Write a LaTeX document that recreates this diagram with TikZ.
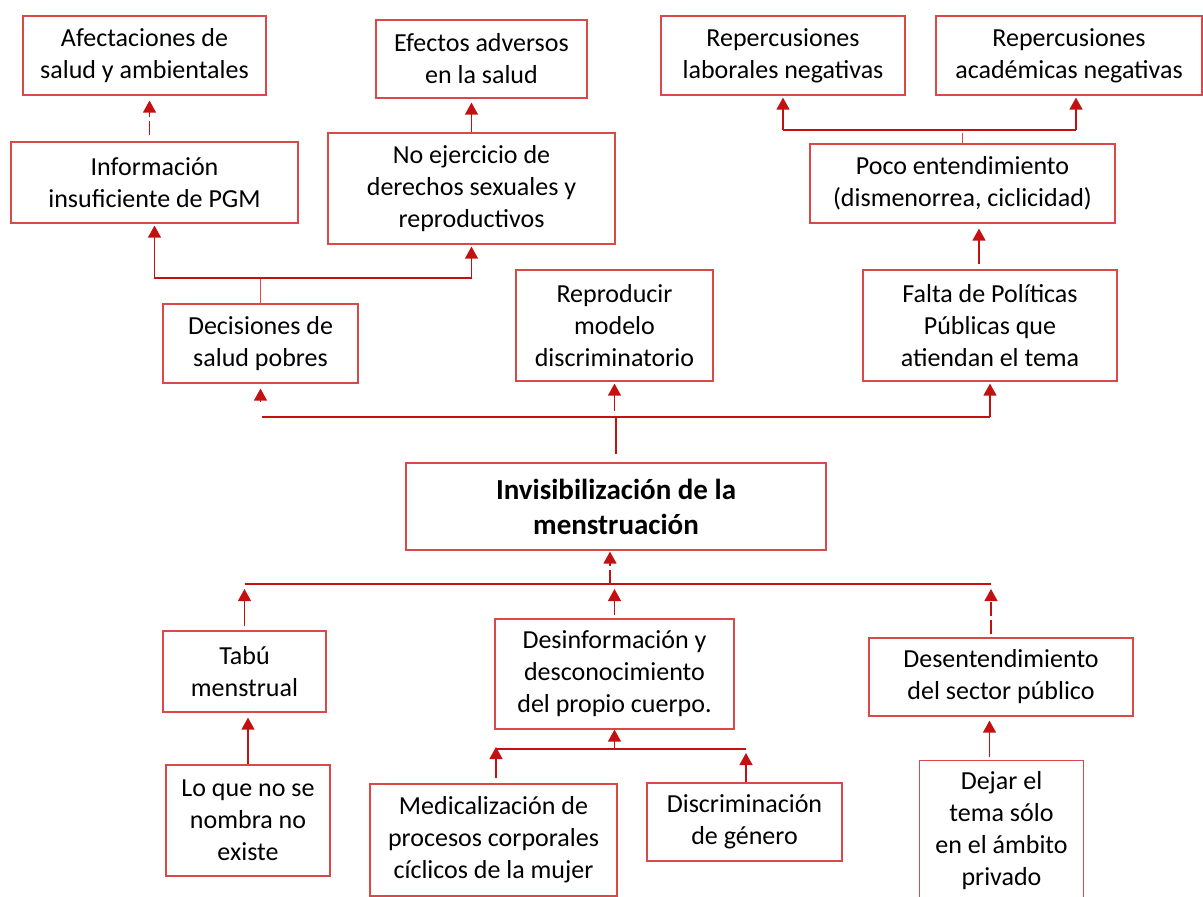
\documentclass[tikz,border=0pt]{standalone}
\usepackage{fontspec}
\setmainfont{Carlito}
\usetikzlibrary{arrows.meta}
\definecolor{boxred}{RGB}{218,72,72}
\definecolor{linered}{RGB}{196,16,16}
\begin{document}
\begin{tikzpicture}[x=1pt,y=-1pt,
  box/.style={draw=boxred, line width=1.2pt, inner sep=0pt, align=center,
    font=\fontsize{26}{32}\selectfont, text=black},
  conn/.style={draw=linered, line width=1.3pt},
  thin/.style={draw=boxred, line width=1pt},
  arr/.style={conn, -{Triangle[length=12pt,width=13pt]}},
  dsh/.style={dash pattern=on 14pt off 4pt},
]
\useasboundingbox (0,0) rectangle (1203,897);

% top rows
\node[box, minimum width=243pt, minimum height=79pt] (afect) at (144.5,55.5) {Afectaciones de\\salud y ambientales};
\node[box, minimum width=287pt, minimum height=81pt] (info) at (154.5,182.5) {Información\\insuficiente de PGM};
\node[box, minimum width=211pt, minimum height=78pt] (efectos) at (481.5,59) {Efectos adversos\\en la salud};
\node[box, minimum width=287pt, minimum height=111pt] (noejer) at (471.5,188.5) {No ejercicio de\\derechos sexuales y\\reproductivos};
\node[box, minimum width=244pt, minimum height=79pt] (replab) at (783,55.5) {Repercusiones\\laborales negativas};
\node[box, minimum width=266pt, minimum height=79pt] (repacad) at (1069,55.5) {Repercusiones\\académicas negativas};
\node[box, minimum width=305pt, minimum height=79pt] (poco) at (962.5,183.5) {Poco entendimiento\\(dismenorrea, ciclicidad)};
\node[box, minimum width=195pt, minimum height=79pt] (decis) at (260.5,343.5) {Decisiones de\\salud pobres};
\node[box, minimum width=197pt, minimum height=111pt] (reprod) at (614.5,325.5) {Reproducir\\modelo\\discriminatorio};
\node[box, minimum width=254pt, minimum height=111pt] (falta) at (990,325.5) {Falta de Políticas\\Públicas que\\atiendan el tema};

% central
\node[box, minimum width=420pt, minimum height=87pt, font=\fontsize{29}{35}\selectfont\bfseries] (central) at (616,506.5) {Invisibilización de la\\menstruación};

% bottom rows
\node[box, minimum width=163pt, minimum height=81pt] (tabu) at (244.5,671.5) {Tabú\\menstrual};
\node[box, minimum width=239pt, minimum height=110pt] (desinf) at (614.5,674) {Desinformación y\\desconocimiento\\del propio cuerpo.};
\node[box, minimum width=264pt, minimum height=78pt] (desent) at (1001,677) {Desentendimiento\\del sector público};
\node[box, minimum width=164pt, minimum height=111pt] (loque) at (248,820.5) {Lo que no se\\nombra no\\existe};
\node[box, minimum width=247pt, minimum height=112pt] (medic) at (493.5,840) {Medicalización de\\procesos corporales\\cíclicos de la mujer};
\node[box, minimum width=195pt, minimum height=78pt] (discr) at (744.5,822) {Discriminación\\de género};
\node[box, draw=none, minimum width=163pt, minimum height=140pt] (dejar) at (1001.5,831) {Dejar el\\tema sólo\\en el ámbito\\privado};
\draw[draw=boxred, line width=1.2pt] (dejar.south west) -- (dejar.north west) -- (dejar.north east) -- (dejar.south east);

% connectors: top left
\draw[arr, dsh, shorten <=6pt, shorten >=5pt] ([xshift=-5pt]info.north) -- ([xshift=-5pt]info.north |- afect.south);
\coordinate (j1) at (decis.north |- 0,278);
\draw[thin] (decis.north) -- (j1);
\draw[arr, shorten >=2pt] (j1) -| (info.south);
\draw[arr, shorten >=2pt] (j1) -| (noejer.south);
\draw[arr, shorten >=4pt] (noejer.north) -- (noejer.north |- efectos.south);

% top right
\coordinate (j2) at (poco.north |- 0,130);
\draw[thin, shorten >=3pt] (poco.north) -- (j2);
\draw[arr, shorten >=2pt] (replab.south |- j2) -- (replab.south);
\draw[conn] (replab.south |- j2) -- ([xshift=7pt]repacad.south |- j2);
\draw[arr, shorten >=2pt] ([xshift=7pt]repacad.south |- j2) -- ([xshift=7pt]repacad.south);
\draw[arr, shorten <=5pt, shorten >=5pt] ([xshift=-11pt]falta.north) -- ([xshift=-11pt]falta.north |- poco.south);

% central to top tier
\coordinate (j3) at (central.north |- 0,417);
\draw[conn, shorten <=8pt] (central.north) -- (j3);
\draw[conn] ([xshift=1.5pt]decis.south |- j3) -- (falta.south |- j3);
\draw[arr, shorten >=5pt] ([yshift=-18pt]decis.south) -- (decis.south);
\draw[arr, shorten <=6pt, shorten >=2pt] (reprod.south |- j3) -- (reprod.south);
\draw[arr, shorten >=2pt] (falta.south |- j3) -- (falta.south);

% bottom tier to central
\coordinate (j4) at (610,584);
\draw[arr, dsh, shorten >=1pt] (j4) -- (j4 |- central.south);
\draw[conn] (tabu.north |- j4) -- ([xshift=-10pt]desent.north |- j4);
\draw[arr, shorten <=4pt, shorten >=5pt] (tabu.north) -- (tabu.north |- j4);
\draw[arr, shorten <=3pt, shorten >=5pt] (desinf.north) -- (desinf.north |- j4);
\draw[arr, dsh, shorten <=3pt, shorten >=5pt] ([xshift=-10pt]desent.north) -- ([xshift=-10pt]desent.north |- j4);

% lowest tier
\draw[arr, shorten >=5pt] (loque.north) -- (loque.north |- tabu.south);
\coordinate (j5) at (desinf.south |- 0,749);
\draw[arr] (j5) -- (desinf.south);
\draw[conn] ([xshift=2.5pt]medic.north |- j5) -- ([xshift=1.5pt]discr.north |- j5);
\draw[arr, shorten <=5pt, shorten >=-2pt] ([xshift=2.5pt]medic.north) -- ([xshift=2.5pt]medic.north |- j5);
\draw[arr, shorten >=4pt] ([xshift=1.5pt]discr.north) -- ([xshift=1.5pt]discr.north |- j5);
\draw[arr, shorten <=3pt, shorten >=4pt] ([xshift=-12pt]dejar.north) -- ([xshift=-12pt]dejar.north |- desent.south);
\end{tikzpicture}
\end{document}
